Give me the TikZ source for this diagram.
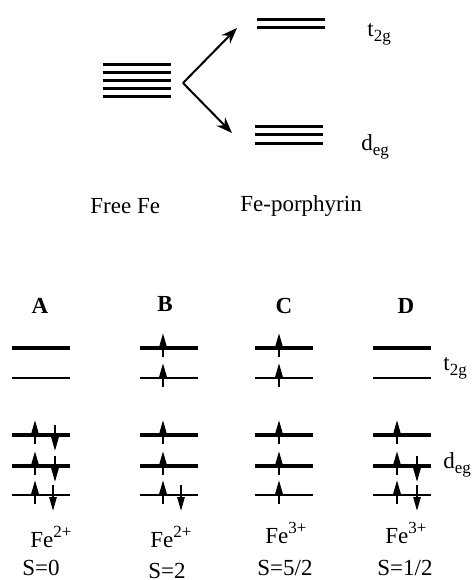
\documentclass[tikz,border=0pt]{standalone}
\usepackage{fontspec}
\setmainfont{Liberation Serif}
\usetikzlibrary{arrows.meta}

\tikzset{
  toplevel/.style={line width=1.5pt},
  thicklevel/.style={line width=1.75pt},
  thinlevel/.style={line width=1pt},
  split/.style={line width=1pt,-{Stealth[length=8pt,width=6pt]}},
  spin/.style={line width=1pt,-{Triangle[length=7pt,width=3.6pt]}},
  lbl/.style={anchor=base west,inner sep=0pt,font=\fontsize{11.5}{14}\selectfont},
  colname/.style={anchor=base,inner sep=0pt,font=\bfseries\fontsize{11.5}{14}\selectfont},
}
\newcommand{\spinup}[2]{\draw[spin] (#1,#2+9) -- (#1,#2-15);}
\newcommand{\spindn}[2]{\draw[spin] (#1,#2-10) -- (#1,#2+16);}
\newcommand{\subs}[1]{\raisebox{-2.6pt}{\fontsize{8.5}{9}\selectfont #1}}
\newcommand{\sups}[1]{\raisebox{4.6pt}{\fontsize{8.5}{9}\selectfont #1}}

\begin{document}
\begin{tikzpicture}[x=0.5pt,y=-0.5pt]
\useasboundingbox (0,0) rectangle (475,580);
% free ion and splitting
\foreach \y in {64,72,80,88,96}{
\draw[toplevel] (103,\y) -- (171,\y);
}
\coordinate (fork) at (183,83);
\coordinate (uptip) at (237,28);
\coordinate (dntip) at (232,133);
\draw[split] (fork) -- (uptip);
\draw[split] (fork) -- (dntip);
\foreach \y in {19,27}{
\draw[toplevel] (257,\y) -- (325,\y);
}
\foreach \y in {126,134,143}{
\draw[toplevel] (255,\y) -- (323,\y);
}
\node[lbl] (ttop) at (367,36) {t\subs{2g}};
\node[lbl] (dtop) at (361,150) {d\subs{eg}};
\node[lbl] (free) at (90,213) {Free Fe};
\node[lbl] (porph) at (240,211) {Fe-porphyrin};

% spin configurations
\foreach \x in {12,140,255,373}{
\draw[thicklevel] (\x,348) -- (\x+58,348);
\draw[thinlevel] (\x,378) -- (\x+58,378);
\draw[thicklevel] (\x,435) -- (\x+58,435);
\draw[thicklevel] (\x,466) -- (\x+58,466);
\draw[thinlevel] (\x,495) -- (\x+58,495);
}
\node[colname] (nA) at (40,313) {A};
\node[colname] (nB) at (165,311) {B};
\node[colname] (nC) at (284,313) {C};
\node[colname] (nD) at (406,313) {D};
% A
\foreach \y in {435,466,495}{
\spinup{35}{\y}
}
\spindn{55}{435}
\spindn{55}{466}
\spindn{53}{495}
% B
\foreach \y in {348,378,435,466,495}{
\spinup{163}{\y}
}
\spindn{181}{495}
% C
\foreach \y in {348,378,435,466,495}{
\spinup{279}{\y}
}
% D
\foreach \y in {435,466,495}{
\spinup{397}{\y}
}
\spindn{417}{466}
\spindn{417}{495}
\node[lbl] (tbot) at (443,370) {t\subs{2g}};
\node[lbl] (dbot) at (443,468) {d\subs{eg}};
\node[lbl] (feA) at (30,547) {Fe\sups{2+}};
\node[lbl] (sA) at (22,575) {S=0};
\node[lbl] (feB) at (150,547) {Fe\sups{2+}};
\node[lbl] (sB) at (148,578) {S=2};
\node[lbl] (feC) at (265,543) {Fe\sups{3+}};
\node[lbl] (sC) at (257,575) {S=5/2};
\node[lbl] (feD) at (385,543) {Fe\sups{3+}};
\node[lbl] (sD) at (377,575) {S=1/2};
\end{tikzpicture}
\end{document}
